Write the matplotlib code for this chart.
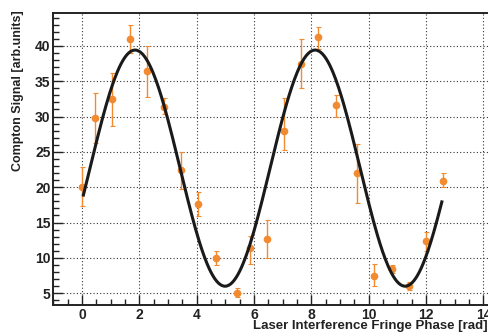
import numpy as np
import matplotlib
matplotlib.use("Agg")
import matplotlib.pyplot as plt
from matplotlib.ticker import MultipleLocator

# Data points
phase = [0.0, 0.45, 1.06, 1.66, 2.26, 2.85, 3.45, 4.06, 4.66, 5.41, 5.86,
         6.45, 7.06, 7.64, 8.24, 8.85, 9.58, 10.2, 10.82, 11.4, 11.99, 12.59]
signal = [20.0, 29.8, 32.5, 41.0, 36.5, 31.4, 22.4, 17.6, 10.0, 5.1, 11.4,
          12.7, 28.0, 37.4, 41.2, 31.6, 22.0, 7.4, 8.4, 6.0, 12.4, 20.9]
err_low = [2.7, 3.5, 3.8, 2.0, 3.7, 1.1, 2.7, 1.7, 1.0, 0.6, 2.2,
           2.7, 2.7, 3.4, 1.7, 1.6, 4.3, 1.4, 0.5, 0.5, 1.4, 0.9]
err_high = [2.8, 3.5, 3.7, 2.0, 3.5, 1.2, 2.6, 1.7, 1.0, 0.7, 1.7,
            2.6, 4.6, 3.6, 1.4, 1.4, 4.1, 1.7, 0.6, 0.6, 1.2, 1.1]

# Fit curve parameters (offset + amplitude * cos(2pi/period*(x - x_peak)))
fit_offset = 22.7
fit_amp = 16.7
fit_period = 6.28
fit_peak = 1.85
fit_xmin, fit_xmax = 0.05, 12.55

plt.rcParams['font.family'] = ['Liberation Sans', 'DejaVu Sans']

fig = plt.figure(figsize=(4.88, 3.34), dpi=100)
ax = fig.add_axes([53.3/488, 1-305/334, (488-53.3)/488, (305-13.3)/334])

xf = np.linspace(fit_xmin, fit_xmax, 400)
yf = fit_offset + fit_amp*np.cos(2*np.pi/fit_period*(xf - fit_peak))

orange = '#f28a30'
ax.errorbar(phase, signal, yerr=[err_low, err_high], fmt='o', color=orange,
            ms=4.5, elinewidth=1.0, capsize=1.8, capthick=0.8, zorder=3)
ax.plot(xf, yf, color='#1a1a1a', lw=2.2, zorder=4)

ax.set_xlim(-1.0, 14.16)
ax.set_ylim(3.34, 44.6)
ax.xaxis.set_major_locator(MultipleLocator(2))
ax.xaxis.set_minor_locator(MultipleLocator(0.5))
ax.yaxis.set_major_locator(MultipleLocator(5))
ax.yaxis.set_minor_locator(MultipleLocator(1))
ax.set_yticks([5, 10, 15, 20, 25, 30, 35, 40])

ax.tick_params(which='both', direction='in', top=False, right=False,
               labelsize=10, width=1.0, colors='#222222')
ax.tick_params(which='major', length=7, pad=2)
ax.tick_params(which='minor', length=4)
for lab in ax.get_xticklabels() + ax.get_yticklabels():
    lab.set_fontweight('bold')

ax.grid(True, which='major', color='#333333', linestyle=(0, (1, 2)), lw=0.8)
ax.set_axisbelow(True)

for s in ['left', 'bottom', 'top']:
    ax.spines[s].set_linewidth(1.4)
    ax.spines[s].set_color('#222222')
ax.spines['right'].set_visible(False)

fig.text(18/488, 1-10/334, 'Compton Signal [arb.units]', rotation=90,
         ha='center', va='top', fontsize=9, fontweight='bold', color='#222222')
fig.text(1.0, 1-326/334, 'Laser Interference Fringe Phase [rad]',
         ha='right', va='center', fontsize=9.5, fontweight='bold', color='#222222')

fig.savefig('out.png', dpi=100)
